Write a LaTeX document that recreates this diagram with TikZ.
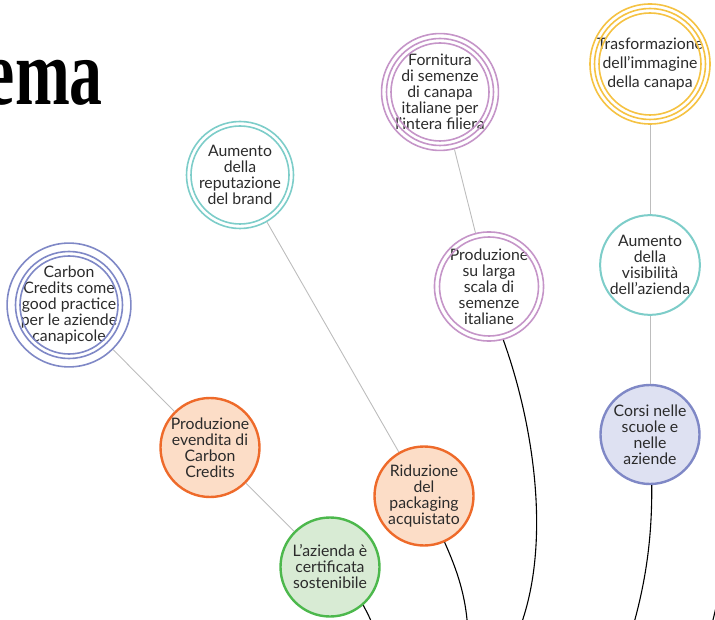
\documentclass[tikz,border=0pt]{standalone}
\usepackage{fontspec}
\setmainfont{Lato}
\newfontfamily\titlefont{Liberation Serif}

\definecolor{ink}{HTML}{2B2B2B}
\definecolor{periwinkle}{HTML}{7F88C6}
\definecolor{lavender}{HTML}{DEE1F2}
\definecolor{aquaring}{HTML}{7DCDC9}
\definecolor{orchid}{HTML}{C595C8}
\definecolor{goldring}{HTML}{F5C242}
\definecolor{tangerine}{HTML}{EE6A2A}
\definecolor{peach}{HTML}{FCDDC7}
\definecolor{leaf}{HTML}{4CB84C}
\definecolor{mint}{HTML}{D8EBD4}
\definecolor{linkgray}{HTML}{BDBDBD}

\tikzset{
  bubble/.style={circle, inner sep=0pt, align=center, text=ink,
    font=\fontsize{15.8}{16}\selectfont, minimum size=#1},
  ringed/.style 2 args={bubble=#1, draw=#2, line width=1.6pt},
  solid bubble/.style n args={3}{bubble=#1, draw=#2, fill=#3, line width=2.4pt},
  innerring/.style={line width=1.6pt},
  link/.style={draw=linkgray, line width=0.9pt},
  branch/.style={draw=black, line width=1.1pt},
}

% extra concentric ring around an existing node
\newcommand{\ringaround}[3]{\draw[innerring, draw=#2] (#1.center) circle (#3);}

\begin{document}
\begin{tikzpicture}[x=1pt, y=-1pt]
  \useasboundingbox (0,0) rectangle (715,620);
  \clip (0,0) rectangle (715,620);

  % heading
  \node[anchor=base east, inner sep=0pt] (title) at (103,105)
    {\scalebox{0.7}[1]{\titlefont\bfseries\fontsize{94}{94}\selectfont ema}};

  % outcome bubbles with rings
  \node[ringed={116pt}{periwinkle}] (carbon) at (69,305)
    {Carbon\\Credits come\\good practice\\per le aziende\\canapicole};
  \ringaround{carbon}{periwinkle}{53.5pt}
  \ringaround{carbon}{periwinkle}{49pt}

  \node[ringed={107pt}{aquaring}] (reput) at (240,175)
    {Aumento\\della\\reputazione\\del brand};
  \ringaround{reput}{aquaring}{49pt}

  \node[ringed={116pt}{orchid}] (fornit) at (440,92)
    {Fornitura\\di semenze\\di canapa\\italiane per\\l’intera filiera};
  \ringaround{fornit}{orchid}{53.5pt}
  \ringaround{fornit}{orchid}{49pt}

  \node[ringed={120pt}{goldring}, font=\fontsize{15.8}{19}\selectfont] (trasf) at (650,64)
    {Trasformazione\\dell’immagine\\della canapa};
  \ringaround{trasf}{goldring}{55.5pt}
  \ringaround{trasf}{goldring}{51pt}

  \node[ringed={108pt}{orchid}] (larga) at (489,286.5)
    {Produzione\\su larga\\scala di\\semenze\\italiane};
  \ringaround{larga}{orchid}{49.5pt}

  \node[bubble={99pt}, draw=aquaring, line width=2pt, fill=white] (visib) at (650,265)
    {Aumento\\della\\visibilità\\dell’azienda};

  % action bubbles
  \node[solid bubble={99pt}{periwinkle}{lavender}] (corsi) at (650,434.5)
    {Corsi nelle\\scuole e\\nelle\\aziende};
  \node[solid bubble={99pt}{tangerine}{peach}] (evend) at (210,447.5)
    {Produzione\\evendita di\\Carbon\\Credits};
  \node[solid bubble={99pt}{tangerine}{peach}] (ridu) at (424,496)
    {Riduzione\\del\\packaging\\acquistato};
  \node[solid bubble={99pt}{leaf}{mint}] (azienda) at (330,567)
    {L’azienda è\\certificata\\sostenibile};

  % links between outcomes
  \draw[link] (carbon) -- (evend);
  \draw[link] (evend) -- (azienda);
  \draw[link] (reput) -- (ridu);
  \draw[link] (fornit) -- (larga);
  \draw[link] (trasf) -- (visib);
  \draw[link] (visib) -- (corsi);

  % branches running down to the root
  \coordinate (rootA) at (384,652);
  \coordinate (rootB) at (468,640);
  \coordinate (rootC) at (519,630);
  \coordinate (rootD) at (632,630);
  \coordinate (edgeIn) at (722,570);
  \coordinate (edgeOut) at (708,640);

  \draw[branch] (azienda.-49) .. controls (370,618) .. (rootA);
  \draw[branch] (ridu.-66) .. controls (457,570) and (468,600) .. (rootB);
  \draw[branch] (larga.-75) .. controls (534,425) and (552,545) .. (rootC);
  \draw[branch] (corsi.-88) .. controls (652,530) and (648,575) .. (rootD);
  \draw[branch] (edgeIn) .. controls (718,600) .. (edgeOut);
\end{tikzpicture}
\end{document}
